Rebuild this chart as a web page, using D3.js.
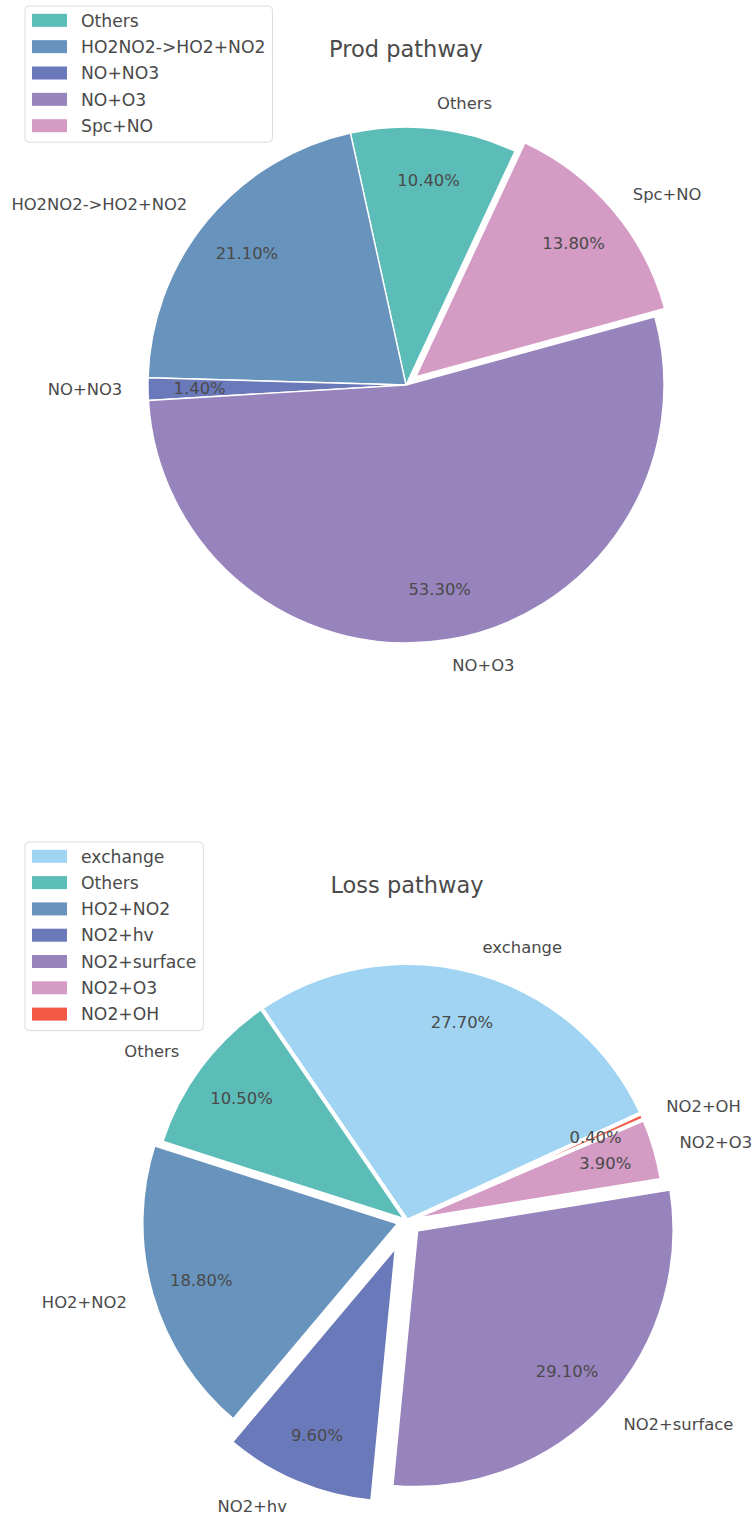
<!DOCTYPE html>
<html>
<head>
<meta charset="utf-8">
<script src="https://cdn.jsdelivr.net/npm/d3@7"></script>
<style>
    body { margin: 0; background: #fff; }
    svg text { font-family: "DejaVu Sans", sans-serif; fill: #4a4a4a; }
</style>
</head>
<body>
<div id="chart"></div>
<script>
// -------- data --------

const prodLabels = ["Others", "HO2NO2->HO2+NO2", "NO+NO3", "NO+O3", "Spc+NO"]
const prodValues = [10.4, 21.1, 1.4, 53.3, 13.8]

const lossLabels = ["exchange", "Others", "HO2+NO2", "NO2+hv", "NO2+surface", "NO2+O3", "NO2+OH"]
const lossValues = [27.7, 10.5, 18.8, 9.6, 29.1, 3.9, 0.4]

const colorOf = {
    "exchange": "#a0d4f2",
    "Others": "#5cbcb7",
    "HO2NO2->HO2+NO2": "#6793bd",
    "HO2+NO2": "#6793bd",
    "NO+NO3": "#6a79b9",
    "NO2+hv": "#6a79b9",
    "NO+O3": "#9884bd",
    "NO2+surface": "#9884bd",
    "Spc+NO": "#d49bc5",
    "NO2+O3": "#d49bc5",
    "NO2+OH": "#f25a46"
}

function PieChart(conf) {
    this.conf = conf
}

PieChart.prototype.draw = function(svg, labels, values) {
    let c = this.conf
    let g = svg.append("g")
        .attr("class", "pie")
        .attr("transform", "translate(" + c.cx + "," + c.cy + ")")

    // matplotlib angles: counter clockwise from 3 o'clock -> d3 angles
    let a0 = (90 - c.startAngle) * Math.PI / 180
    let pie = d3.pie().sort(null).startAngle(a0).endAngle(a0 - 2 * Math.PI)
    let arcs = pie(values)
    let arc = d3.arc().innerRadius(0).outerRadius(c.radius)
    let total = d3.sum(values)

    let at = (d, k) => {
        let m = (d.startAngle + d.endAngle) / 2
        return [k * c.radius * Math.sin(m), -k * c.radius * Math.cos(m)]
    }
    let shift = (d, i) => at(d, c.explode[i])

    g.append("g").attr("class", "wedges")
        .selectAll("path")
        .data(arcs)
        .join("path")
        .attr("transform", (d, i) => "translate(" + shift(d, i) + ")")
        .attr("d", arc)
        .attr("fill", (d, i) => colorOf[labels[i]])
        .attr("stroke", "#fff")
        .attr("stroke-width", c.edge)

    let texts = g.append("g").attr("class", "texts")

    texts.selectAll("text.pct")
        .data(arcs)
        .join("text")
        .attr("class", "pct")
        .attr("transform", (d, i) => {
            let s = shift(d, i), p = at(d, c.pctDistance)
            return "translate(" + (s[0] + p[0]) + "," + (s[1] + p[1]) + ")"
        })
        .attr("text-anchor", "middle")
        .attr("dy", "0.36em")
        .attr("font-size", c.fontSize)
        .text(d => (d.value / total * 100).toFixed(2) + "%")

    texts.selectAll("text.lbl")
        .data(arcs)
        .join("text")
        .attr("class", "lbl")
        .attr("x", (d, i) => shift(d, i)[0] + at(d, c.labelDistance)[0])
        .attr("y", (d, i) => shift(d, i)[1] + at(d, c.labelDistance)[1])
        .attr("text-anchor", (d, i) => shift(d, i)[0] + at(d, c.labelDistance)[0] > 0 ? "start" : "end")
        .attr("dy", "0.36em")
        .attr("font-size", c.fontSize)
        .text((d, i) => labels[i])

    svg.append("text")
        .attr("class", "title")
        .attr("x", c.cx)
        .attr("y", c.titleY)
        .attr("text-anchor", "middle")
        .attr("font-size", c.titleSize)
        .text(c.title)

    this._drawLegend(svg, labels)
}

PieChart.prototype._drawLegend = function(svg, labels) {
    let c = this.conf
    let L = c.legend
    let g = svg.append("g").attr("class", "legend")
    let box = g.append("rect")
        .attr("x", L.x)
        .attr("y", L.y)
        .attr("rx", 4)
        .attr("fill", "#fff")
        .attr("fill-opacity", 0.8)
        .attr("stroke", "#dcdcdc")
        .attr("stroke-width", 1)

    let rows = g.selectAll("g.row")
        .data(labels)
        .join("g")
        .attr("class", "row")
        .attr("transform", (d, i) => "translate(0," + (L.firstRow + i * L.rowStep) + ")")
    rows.append("rect")
        .attr("x", L.x + 7)
        .attr("y", -6.5)
        .attr("width", 35)
        .attr("height", 13)
        .attr("fill", d => colorOf[d])
    rows.append("text")
        .attr("x", L.x + 56)
        .attr("dy", "0.36em")
        .attr("font-size", c.legendSize)
        .text(d => d)

    let maxLen = d3.max(rows.selectAll("text").nodes(), n => n.getComputedTextLength())
    box.attr("width", 56 + maxLen + 7)
        .attr("height", L.firstRow - L.y + (labels.length - 1) * L.rowStep + 16.5)
}

// -------- init --------

const base = {
    radius: 258,
    fontSize: 16.4,
    legendSize: 17.2,
    titleSize: 22.5,
    pctDistance: 0.8,
    labelDistance: 1.1
}

let svg = d3.select("#chart").append("svg")
    .attr("id", "pies")
    .attr("width", 752)
    .attr("height", 1517)

const prod = new PieChart(Object.assign({}, base, {
    title: "Prod pathway",
    cx: 406, cy: 385, titleY: 57,
    startAngle: 65,
    edge: 1.4,
    explode: [0, 0, 0, 0, 0.05],
    legend: {x: 25, y: 6, firstRow: 20.3, rowStep: 26.35}
}))
prod.draw(svg, prodLabels, prodValues)

const loss = new PieChart(Object.assign({}, base, {
    title: "Loss pathway",
    cx: 407, cy: 1221, titleY: 893,
    startAngle: 24.7,
    edge: 4,
    explode: [0, 0, 0.03, 0.1, 0.05, 0, 0],
    legend: {x: 25, y: 842, firstRow: 856.3, rowStep: 26.3}
}))
loss.draw(svg, lossLabels, lossValues)
</script>
</body>
</html>
